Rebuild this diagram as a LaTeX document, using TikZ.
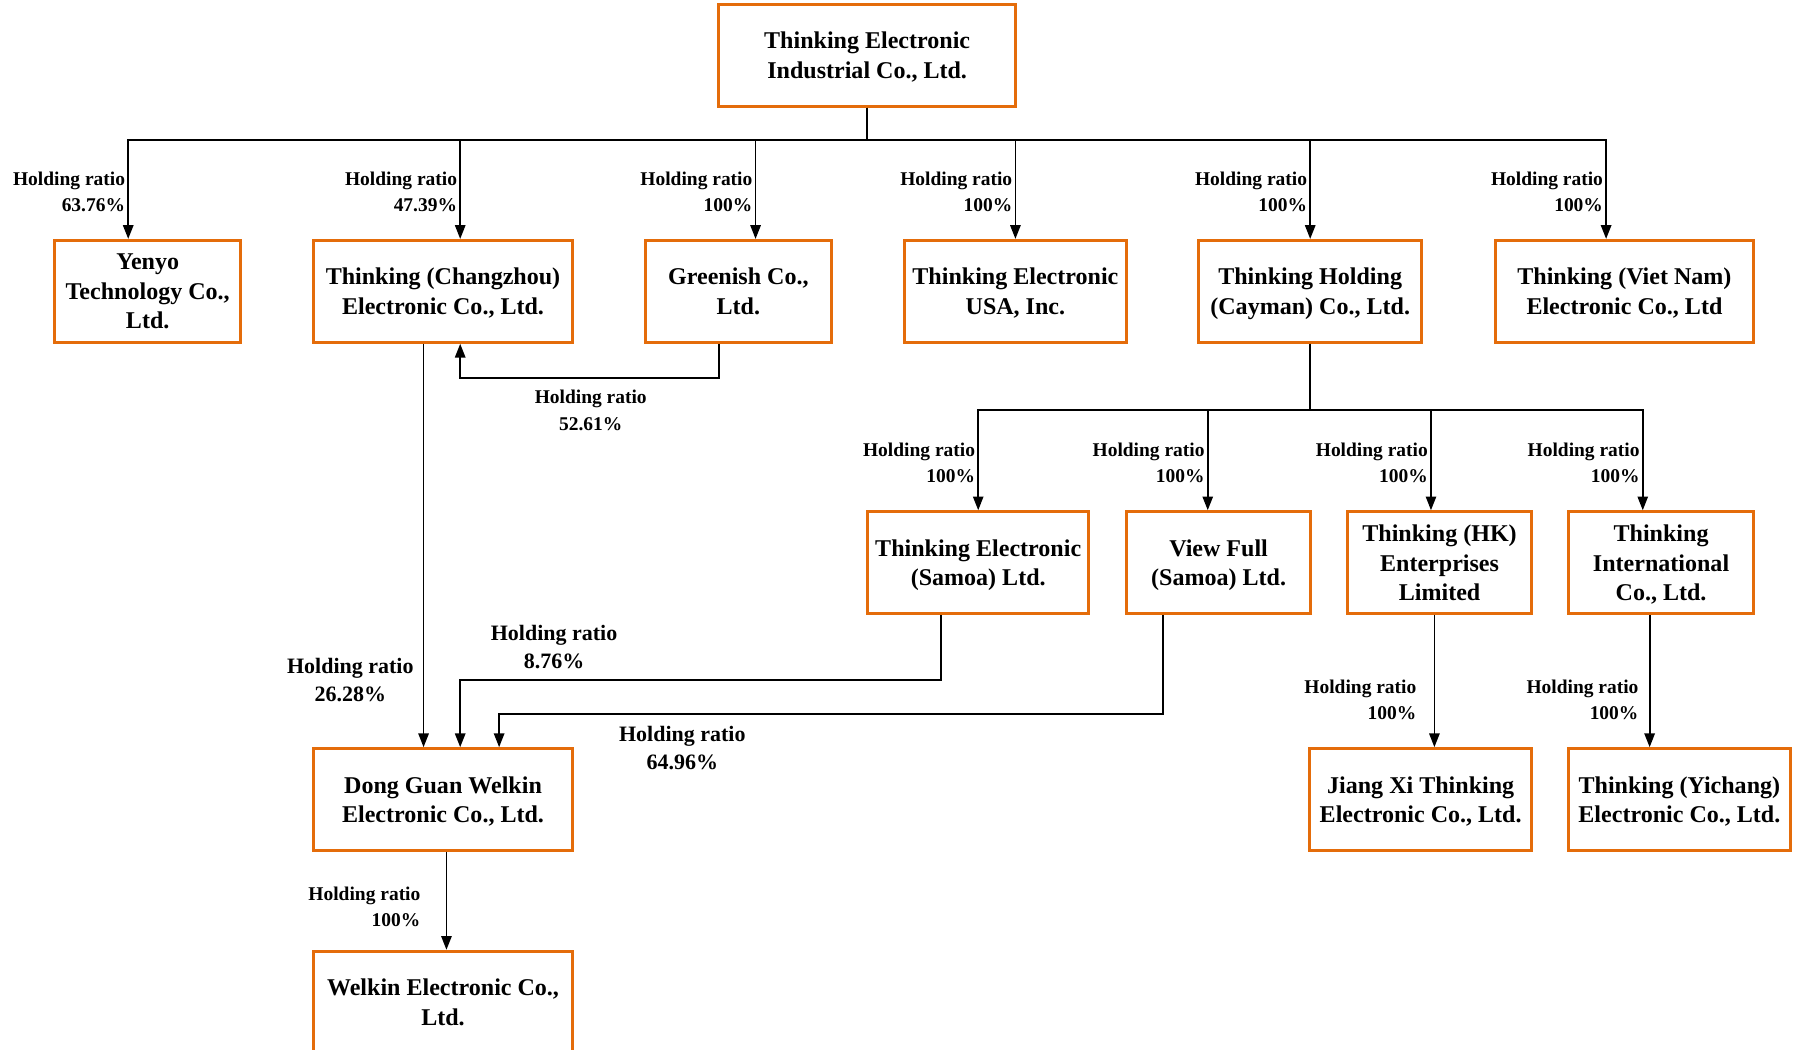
\documentclass[tikz,border=0pt]{standalone}
\usepackage{fontspec}
\setmainfont{Liberation Serif}
\usepackage{tikz}
\usetikzlibrary{arrows.meta}

\definecolor{boxorange}{RGB}{228,108,10}

\tikzset{
	firm/.style={draw=boxorange, line width=1.3pt, fill=white, align=center, inner sep=0pt, minimum height=44.5pt, text depth=-9pt, font=\bfseries\fontsize{10.5}{13}\selectfont},
	link/.style={line width=0.8pt, -{Triangle[length=6pt,width=4.5pt]}},
	ratio/.style={font=\bfseries\fontsize{8.5}{11.5}\selectfont, align=right, inner sep=1pt, yshift=-1.2pt},
	bigratio/.style={font=\bfseries\fontsize{9.6}{12}\selectfont, align=center, inner sep=0pt}
}

\begin{document}
\begin{tikzpicture}[x=0.5pt, y=-0.5pt]
		\useasboundingbox (0,0) rectangle (1568,917);
		
		% Parent
		\node[firm, minimum width=129.5pt] (parent) at (757.5,48.5) {Thinking Electronic\\Industrial Co., Ltd.};
		
		% First tier
		\node[firm, minimum width=81pt] (yenyo) at (129,254.5) {Yenyo\\Technology Co.,\\Ltd.};
		\node[firm, minimum width=113pt] (changzhou) at (387,254.5) {Thinking (Changzhou)\\Electronic Co., Ltd.};
		\node[firm, minimum width=81pt] (greenish) at (645,254.5) {Greenish Co.,\\Ltd.};
		\node[firm, minimum width=97pt] (usa) at (887,254.5) {Thinking Electronic\\USA, Inc.};
		\node[firm, minimum width=97.5pt] (cayman) at (1144.5,254.5) {Thinking Holding\\(Cayman) Co., Ltd.};
		\node[firm, minimum width=113pt] (vietnam) at (1419,254.5) {Thinking (Viet Nam)\\Electronic Co., Ltd};
		
		% Second tier
		\node[firm, minimum width=96.5pt] (samoa) at (854.5,491.5) {Thinking Electronic\\(Samoa) Ltd.};
		\node[firm, minimum width=80.5pt] (viewfull) at (1064.5,491.5) {View Full\\(Samoa) Ltd.};
		\node[firm, minimum width=80.5pt] (hk) at (1257.5,491.5) {Thinking (HK)\\Enterprises\\Limited};
		\node[firm, minimum width=81pt] (intl) at (1451,491.5) {Thinking\\International\\Co., Ltd.};
		
		% Third tier
		\node[firm, minimum width=113pt] (dongguan) at (387,698.5) {Dong Guan Welkin\\Electronic Co., Ltd.};
		\node[firm, minimum width=97pt] (jiangxi) at (1241,698.5) {Jiang Xi Thinking\\Electronic Co., Ltd.};
		\node[firm, minimum width=97pt] (yichang) at (1467,698.5) {Thinking (Yichang)\\Electronic Co., Ltd.};
		\node[firm, minimum width=113pt] (welkin) at (387,875.5) {Welkin Electronic Co.,\\Ltd.};
		
		% Bus levels
		\coordinate (busA) at (0,122);
		\coordinate (busG) at (0,330);
		\coordinate (busB) at (0,358);
		\coordinate (busS) at (0,594);
		\coordinate (busV) at (0,624);
		
		% Parent to first tier
		\draw[link] (parent.south) |- ([xshift=-8.5pt]yenyo.north |- busA) -- node[ratio, left] (r1) {Holding ratio\\63.76\%} ([xshift=-8.5pt]yenyo.north);
		\draw[link] (parent.south) |- ([xshift=7.5pt]changzhou.north |- busA) -- node[ratio, left] (r2) {Holding ratio\\47.39\%} ([xshift=7.5pt]changzhou.north);
		\draw[link] (parent.south) |- ([xshift=7.5pt]greenish.north |- busA) -- node[ratio, left] (r3) {Holding ratio\\100\%} ([xshift=7.5pt]greenish.north);
		\draw[link] (parent.south) |- (usa.north |- busA) -- node[ratio, left] (r4) {Holding ratio\\100\%} (usa.north);
		\draw[link] (parent.south) |- (cayman.north |- busA) -- node[ratio, left] (r5) {Holding ratio\\100\%} (cayman.north);
		\draw[link] (parent.south) |- ([xshift=-8pt]vietnam.north |- busA) -- node[ratio, left] (r6) {Holding ratio\\100\%} ([xshift=-8pt]vietnam.north);
		
		% Greenish to Changzhou
		\draw[link] ([xshift=-8.5pt]greenish.south) |- ([xshift=7.5pt]changzhou.south |- busG) -- ([xshift=7.5pt]changzhou.south);
		\node[ratio, align=center, yshift=1.2pt] (r7) at (516,358.5) {Holding ratio\\52.61\%};
		
		% Cayman to second tier
		\draw[link] (cayman.south) |- (samoa.north |- busB) -- node[ratio, left] (r8) {Holding ratio\\100\%} (samoa.north);
		\draw[link] (cayman.south) |- ([xshift=-4.75pt]viewfull.north |- busB) -- node[ratio, left] (r9) {Holding ratio\\100\%} ([xshift=-4.75pt]viewfull.north);
		\draw[link] (cayman.south) |- ([xshift=-3.75pt]hk.north |- busB) -- node[ratio, left] (r10) {Holding ratio\\100\%} ([xshift=-3.75pt]hk.north);
		\draw[link] (cayman.south) |- ([xshift=-8pt]intl.north |- busB) -- node[ratio, left] (r11) {Holding ratio\\100\%} ([xshift=-8pt]intl.north);
		
		% Into Dong Guan
		\draw[link] ([xshift=-8.5pt]changzhou.south) -- node[bigratio, left=4pt, pos=0.834] (r12) {Holding ratio\\26.28\%} ([xshift=-8.5pt]dongguan.north);
		\draw[link] ([xshift=-16.25pt]samoa.south) |- ([xshift=7.5pt]dongguan.north |- busS) -- ([xshift=7.5pt]dongguan.north);
		\node[bigratio] (r13) at (484,565) {Holding ratio\\8.76\%};
		\draw[link] ([xshift=-24.25pt]viewfull.south) |- ([xshift=24.5pt]dongguan.north |- busV) -- ([xshift=24.5pt]dongguan.north);
		\node[bigratio] (r14) at (596,653.5) {Holding ratio\\64.96\%};
		
		% Third tier links
		\draw[link] ([xshift=-2.25pt]hk.south) -- node[ratio, left=6.5pt, pos=0.62] (r15) {Holding ratio\\100\%} ([xshift=-2.25pt]hk.south |- jiangxi.north);
		\draw[link] ([xshift=-5pt]intl.south) -- node[ratio, left=3.5pt, pos=0.62] (r16) {Holding ratio\\100\%} ([xshift=-5pt]intl.south |- yichang.north);
		\draw[link] ([xshift=1.5pt]dongguan.south) -- node[ratio, left=10pt, pos=0.53] (r17) {Holding ratio\\100\%} ([xshift=1.5pt]dongguan.south |- welkin.north);
	\end{tikzpicture}
\end{document}
